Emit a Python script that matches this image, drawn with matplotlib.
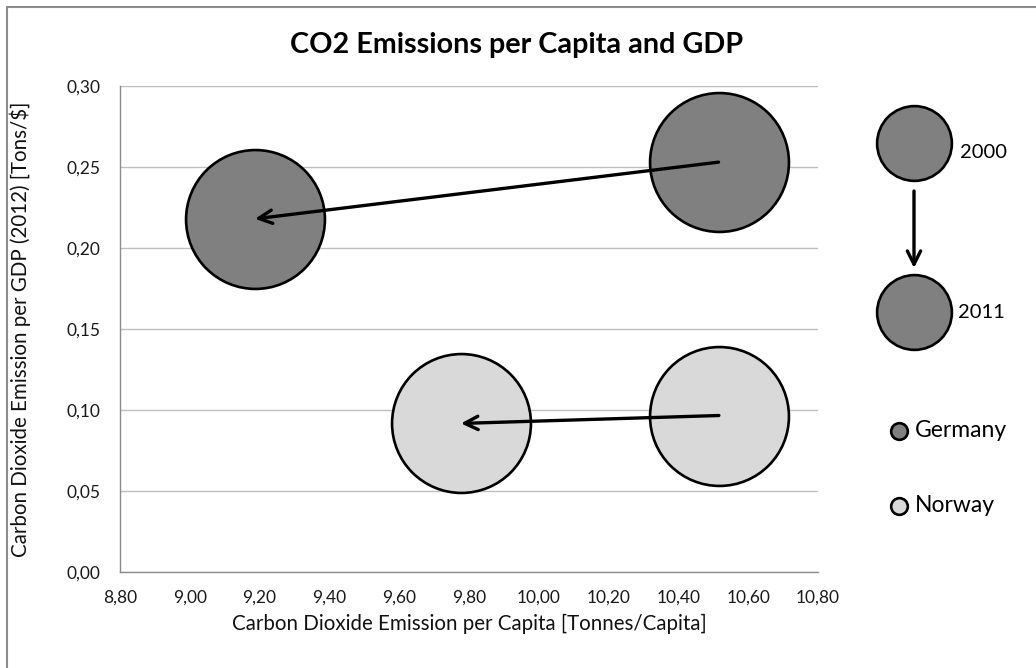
import matplotlib.pyplot as plt
from matplotlib.patches import Rectangle
from matplotlib.ticker import FuncFormatter

# CO2 per capita (x) and CO2 per GDP (y) for each country, 2000 and 2011
countries = ['Germany', 'Norway']
colors = ['#808080', '#d9d9d9']
per_capita_2000 = [10.515, 10.516]
per_gdp_2000 = [0.253, 0.0966]
per_capita_2011 = [9.187, 9.777]
per_gdp_2011 = [0.218, 0.0917]

x_ticks = [8.8, 9.0, 9.2, 9.4, 9.6, 9.8, 10.0, 10.2, 10.4, 10.6, 10.8]
y_ticks = [0.00, 0.05, 0.10, 0.15, 0.20, 0.25, 0.30]

W, H = 1036, 668
bubble = 10000     # bubble area in points^2
edge_w = 1.9

plt.rcParams['font.family'] = ['Lato', 'DejaVu Sans']

fig = plt.figure(figsize=(W / 100, H / 100), dpi=100)
ax = fig.add_axes([120 / W, 1 - 572 / H, 698 / W, 486 / H])

for name, color, x0, y0, x1, y1 in zip(countries, colors, per_capita_2000, per_gdp_2000,
                                       per_capita_2011, per_gdp_2011):
    ax.scatter([x0, x1], [y0, y1], s=bubble, color=color, edgecolor='black',
               linewidth=edge_w, zorder=3, label=name)
    ax.annotate('', xy=(x1, y1), xytext=(x0, y0),
                arrowprops=dict(arrowstyle='->', color='black', lw=2.4,
                                mutation_scale=24, shrinkA=0, shrinkB=0),
                zorder=4)

ax.set_xlim(8.8, 10.8)
ax.set_ylim(0, 0.30)
ax.set_xticks(x_ticks)
ax.set_yticks(y_ticks)
comma = FuncFormatter(lambda v, pos: f'{v:.2f}'.replace('.', ','))
ax.xaxis.set_major_formatter(comma)
ax.yaxis.set_major_formatter(comma)
ax.tick_params(length=0, labelsize=12.5, colors='#1a1a1a')
ax.tick_params(axis='x', pad=13)
ax.tick_params(axis='y', pad=14)
ax.grid(axis='y', color='#bfbfbf', lw=1)
ax.set_axisbelow(True)
for side in ['top', 'right']:
    ax.spines[side].set_visible(False)
for side in ['left', 'bottom']:
    ax.spines[side].set_color('#8c8c8c')
    ax.spines[side].set_linewidth(1)

ax.set_xlabel('Carbon Dioxide Emission per Capita [Tonnes/Capita]', fontsize=14.8,
              color='#111111')
ax.set_ylabel('Carbon Dioxide Emission per GDP (2012) [Tons/$]', fontsize=14.8,
              color='#111111')
ax.xaxis.set_label_coords(0.5, -0.087)
ax.yaxis.set_label_coords(-0.127, 0.5)

fig.suptitle('CO2 Emissions per Capita and GDP', x=517 / W, y=1 - 45 / H, va='center',
             fontsize=20.7, fontweight='bold')

# year key on the right: 2000 bubble -> 2011 bubble
key = fig.add_axes([0, 0, 1, 1], facecolor='none')
key.set_xlim(0, W)
key.set_ylim(H, 0)
key.axis('off')
key.scatter([914, 914], [142.5, 312], s=2900, color=colors[0], edgecolor='black',
            linewidth=edge_w)
key.annotate('', xy=(914, 268), xytext=(914, 191),
             arrowprops=dict(arrowstyle='->', color='black', lw=2.4,
                             mutation_scale=24, shrinkA=0, shrinkB=0))
key.text(960, 152, '2000', fontsize=14.5, va='center', ha='left')
key.text(958, 312, '2011', fontsize=14.5, va='center', ha='left')

fig.legend(loc='center left', bbox_to_anchor=(889 / W, 1 - 468 / H), frameon=False,
           markerscale=0.12, scatterpoints=1, fontsize=16.5, handlelength=0.9,
           handletextpad=0.25, labelspacing=2.37, borderpad=0, borderaxespad=0)

# chart frame
fig.patches.append(Rectangle((7 / W, -0.1), 2, 1.1 - 7 / H, transform=fig.transFigure,
                             fill=False, edgecolor='#8c8c8c', lw=1.5))

fig.savefig('out.png', dpi=100)
